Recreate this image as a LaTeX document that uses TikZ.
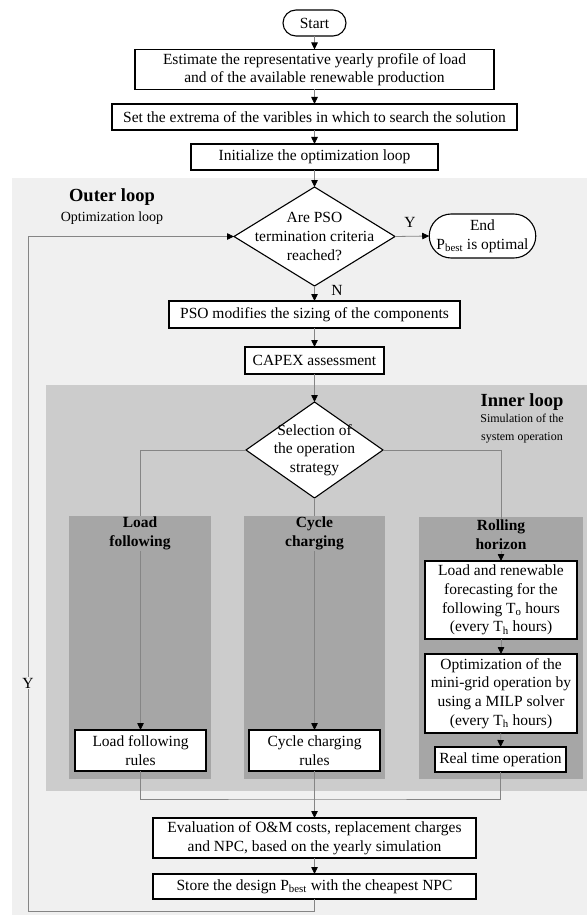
\documentclass[tikz,border=0pt]{standalone}
\usepackage{fontspec}
\setmainfont{Liberation Serif}
\usetikzlibrary{arrows.meta,shapes.geometric,shapes.misc}
\definecolor{outerg}{HTML}{F0F0F0}
\definecolor{innerg}{HTML}{CCCCCC}
\definecolor{colg}{HTML}{A6A6A6}
\definecolor{lineg}{HTML}{858585}
\newcommand{\fmain}{\fontsize{15.5}{18.6}\selectfont}
\newcommand{\fbig}{\fontsize{18.5}{22}\selectfont\bfseries}
\newcommand{\fcol}{\fontsize{15.5}{18.8}\selectfont\bfseries}
\begin{document}
\begin{tikzpicture}[x=1pt,y=-1pt,
  region/.style={draw=none, inner sep=0pt, outer sep=0pt, anchor=north west},
  box/.style={draw=black, line width=1.1pt, fill=white, align=center, inner sep=0pt, outer sep=0pt, font=\fmain},
  term/.style={box, rounded rectangle},
  dia/.style={draw=black, line width=1.1pt, fill=white, diamond, inner sep=0pt, outer sep=0pt},
  txt/.style={align=center, inner sep=0pt, font=\fmain},
  ttl/.style={align=center, inner sep=1pt, fill=colg, font=\fcol},
  conn/.style={draw=lineg, line width=0.8pt},
  arr/.style={conn, -{Triangle[length=7pt,width=6.5pt,color=black]}},
  lab/.style={inner sep=1pt, font=\fmain}
]
\useasboundingbox (0,0) rectangle (587,915);
% regions
\node[region, fill=outerg, minimum width=575pt, minimum height=737pt] (outer) at (12,178) {};
\node[region, fill=innerg, minimum width=541pt, minimum height=406pt] (inner) at (46,385) {};
\node[region, fill=colg, minimum width=142pt, minimum height=263pt] (lcol) at (69,516) {};
\node[region, fill=colg, minimum width=141pt, minimum height=263pt] (ccol) at (244,516) {};
\node[region, fill=colg, minimum width=164pt, minimum height=262pt] (rcol) at (419,517) {};

\node[font=\fbig, inner sep=0pt] (outt) at (112,197) {Outer loop};
\node[font=\fontsize{14}{16}\selectfont, inner sep=0pt] (outs) at (112,218) {Optimization loop};
\node[font=\fbig, inner sep=0pt] (inn) at (522,402) {Inner loop};
\node[font=\fontsize{12}{18}\selectfont, align=center, inner sep=0pt] (inns) at (522,429) {Simulation of the\\system operation};

% boxes
\node[term, minimum width=63pt, minimum height=26pt] (start) at (314.5,23) {Start};
\node[box, minimum width=359pt, minimum height=40pt] (est) at (314.5,69.5) {Estimate the representative yearly profile of load\\and of the available renewable production};
\node[box, minimum width=405pt, minimum height=26pt] (set) at (314.5,117) {Set the extrema of the varibles in which to search the solution};
\node[box, minimum width=247pt, minimum height=26pt] (init) at (314.5,157) {Initialize the optimization loop};
\node[dia, minimum width=161pt, minimum height=99pt] (d1) at (314.5,236.5) {};
\node[txt] (d1t) at (314.5,236.5) {Are PSO\\termination criteria\\reached?};
\node[term, minimum width=97pt, minimum height=44pt] (endn) at (482.5,236) {End\\P\textsubscript{best} is optimal};
\node[box, minimum width=291pt, minimum height=27pt] (pso) at (314.5,314.5) {PSO modifies the sizing of the components};
\node[box, minimum width=139pt, minimum height=27pt] (capex) at (314.5,360.5) {CAPEX assessment};
\node[dia, minimum width=137pt, minimum height=96pt] (d2) at (314.5,450) {};
\node[txt] (d2t) at (314.5,450) {Selection of\\the operation\\strategy};

\node[box, minimum width=131pt, minimum height=41pt] (lrules) at (140.5,750.5) {Load following\\rules};
\node[box, minimum width=131pt, minimum height=41pt] (crules) at (314.5,750.5) {Cycle charging\\rules};
\node[box, minimum width=152pt, minimum height=78pt] (rb1) at (501,600) {Load and renewable\\forecasting for the\\following T\textsubscript{o} hours\\(every T\textsubscript{h} hours)};
\node[box, minimum width=152pt, minimum height=79pt] (rb2) at (501,693.5) {Optimization of the\\mini-grid operation by\\using a MILP solver\\(every T\textsubscript{h} hours)};
\node[box, minimum width=131pt, minimum height=25pt] (rt) at (500.5,759.5) {Real time operation};
\node[box, minimum width=323pt, minimum height=40pt] (eval) at (314.5,838) {Evaluation of O\&M costs, replacement charges\\and NPC, based on the yearly simulation};
\node[box, minimum width=323pt, minimum height=25pt] (store) at (314.5,886.5) {Store the design P\textsubscript{best} with the cheapest NPC};

\coordinate (mrg) at (314.5,799);
\coordinate (lb) at (28,911);

% connectors
\draw[arr] (start) -- (est);
\draw[arr] (est) -- (set);
\draw[arr] (set) -- (init);
\draw[arr] (init) -- (d1.north);
\draw[arr] (d1.east) -- (endn.west);
\draw[arr] (d1.south) -- (pso.north);
\draw[arr] (pso) -- (capex);
\draw[arr] (capex) -- (d2.north);
\draw[arr] (d2.west) -| (lrules.north);
\draw[arr] (d2.south) -- (crules.north);
\draw[arr] (d2.east) -| (rb1.north);
\draw[arr] (rb1) -- (rb2);
\draw[arr] (rb2) -- (rt);
\draw[conn] (lrules.south) |- (mrg) -| (rt.south);
\draw[arr] (crules.south) -- (eval.north);
\draw[arr] (eval) -- (store);
\draw[arr] (store.south) |- (lb) |- (d1.west);

% titles and labels on top
\node[ttl] (lt) at (140,533.5) {Load\\following};
\node[ttl] (ct) at (314.5,533.5) {Cycle\\charging};
\node[ttl] (rtt) at (501,535) {Rolling\\horizon};
\node[lab] (ly) at (410,222) {Y};
\node[lab] (ln) at (337,290) {N};
\node[lab, fill=outerg] (ly2) at (28,683) {Y};
\end{tikzpicture}
\end{document}
